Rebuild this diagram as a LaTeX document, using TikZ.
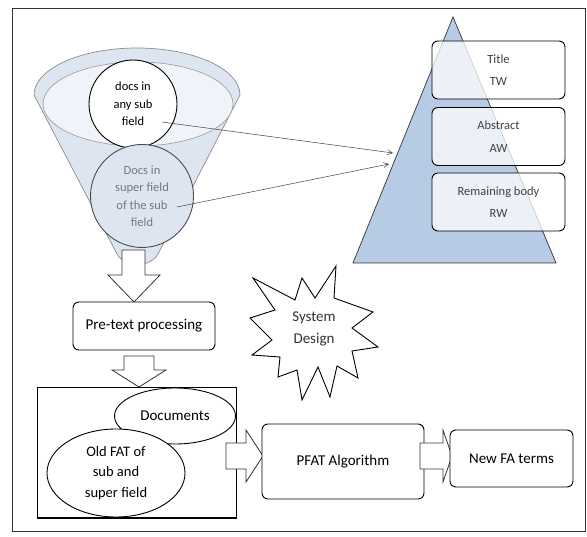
\documentclass[tikz,border=0pt]{standalone}
\usepackage{fontspec}
\setmainfont{Carlito}
\usepackage{xcolor}
\usetikzlibrary{arrows.meta,shapes.geometric}

\definecolor{funnelblue}{RGB}{221,229,241}
\definecolor{pyrblue}{RGB}{183,203,229}
\definecolor{softgray}{RGB}{120,120,120}

\tikzset{
    bigtext/.style={font=\fontsize{15}{20}\selectfont},
    smalltext/.style={font=\fontsize{12.5}{17.5}\selectfont},
    roundbox/.style={draw, rounded corners=6pt, line width=0.9pt, align=center, fill=white, bigtext},
    layerbox/.style={draw, rounded corners=6pt, line width=0.9pt, align=center, fill=white,
        fill opacity=0.75, text opacity=1, text=black!75, smalltext,
        minimum width=133pt, minimum height=58pt},
    blockarrow/.style={draw=black!80, fill=white, line width=0.8pt, line join=miter},
    pointer/.style={-{Straight Barb[length=5pt,width=5pt]}, black!75, line width=0.5pt}
}

\begin{document}
\begin{tikzpicture}[x=1pt, y=-1pt]
    \useasboundingbox (0,0) rectangle (587,537);
    % Frame
    \draw[black!80, line width=0.8pt] (12,8) rectangle (585,531);
    % Funnel
    \draw[draw=black!45, fill=funnelblue, line width=0.7pt]
        (34,95) arc[start angle=180, end angle=0, x radius=103pt, y radius=47pt]
        -- (158,254) .. controls (150,268) and (125,268) .. (117,254) -- cycle;
    \draw[draw=black!40, fill=white!55!funnelblue, line width=0.6pt] (138,104) ellipse (95pt and 42pt);
    % Documents in the funnel
    \node[circle, draw, line width=0.9pt, fill=white, minimum size=88pt, align=center, inner sep=0pt,
        smalltext] (subdocs) at (133,104) {docs in\\any sub\\field};
    \node[circle, draw=black!70, line width=0.9pt, fill=funnelblue, minimum size=103pt, align=center,
        inner sep=0pt, text=softgray, smalltext] (superdocs) at (142,196) {Docs in\\super field\\of the sub\\field};
    % Pyramid of sections
    \draw[draw=black!80, fill=pyrblue, line width=0.7pt] (453,17) -- (556,263) -- (353,263) -- cycle;
    \node[layerbox] (title) at (498.5,70) {Title\\[5pt]TW};
    \node[layerbox] (abstract) at (498.5,136.5) {Abstract\\[5pt]AW};
    \node[layerbox] (body) at (498.5,202) {Remaining body\\[5pt]RW};
    % Pointers into the pyramid
    \coordinate (subfrom) at (162,122);
    \coordinate (superfrom) at (177,207);
    \coordinate (subto) at (393,153);
    \coordinate (superto) at (389,164);
    \draw[pointer] (subfrom) -- (subto);
    \draw[pointer] (superfrom) -- (superto);
    % Funnel to pre-processing
    \draw[blockarrow] (122,250) -- (145,250) -- (145,275) -- (160,275) -- (134,302)
        -- (108,275) -- (122,275) -- cycle;
    \node[roundbox, minimum width=142pt, minimum height=48pt] (pretext) at (144,326) {Pre-text processing};
    % Pre-processing to inputs
    \draw[blockarrow] (124,356) -- (154,356) -- (154,370) -- (166,370) -- (139,387)
        -- (112,370) -- (124,370) -- cycle;
    \node[draw, line width=0.9pt, minimum width=199pt, minimum height=131pt, inner sep=0pt]
        (inputs) at (136.5,452.5) {};
    \draw[line width=2pt] (inputs.south west) -- (inputs.south east);
    \node[ellipse, draw, line width=0.9pt, fill=white, minimum width=121pt, minimum height=56pt, bigtext]
        (documents) at (175,416) {Documents};
    \node[ellipse, draw, line width=0.9pt, fill=white, minimum width=138pt, minimum height=88pt,
        align=center, font=\fontsize{14.5}{20.5}\selectfont] (oldfat) at (116,473) {Old FAT of\\sub and\\super field};
    % System design star
    \draw[fill=white, line width=0.9pt, line join=miter]
        (253,278) -- (295,300) -- (302,278) -- (315,298) -- (336,266) -- (334,298)
        -- (373,312) -- (352,328) -- (378,347) -- (352,351) -- (358,378) -- (337,366)
        -- (330,397) -- (318,367) -- (302,400) -- (297,370) -- (278,377) -- (280,357)
        -- (252,355) -- (272,340) -- (250,318) -- (275,310) -- cycle;
    \node[align=center, text=black!80, font=\fontsize{15}{22}\selectfont] (design) at (314,329) {System\\Design};
    % Inputs to algorithm
    \draw[blockarrow] (226,443) -- (246,443) -- (246,430) -- (263,456) -- (246,482)
        -- (246,469) -- (226,469) -- cycle;
    \node[roundbox, minimum width=162pt, minimum height=75pt] (pfat) at (343,461.5) {PFAT Algorithm};
    % Algorithm to new terms
    \draw[blockarrow] (420,443) -- (443,443) -- (443,430) -- (452,456) -- (443,482)
        -- (443,469) -- (420,469) -- cycle;
    \node[roundbox, minimum width=123pt, minimum height=57pt] (newfa) at (511.5,458.5) {New FA terms};
\end{tikzpicture}
\end{document}
